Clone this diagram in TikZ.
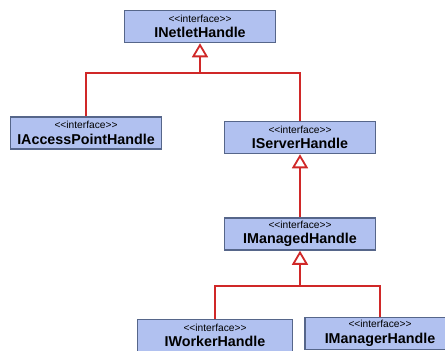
\documentclass[tikz,border=0pt]{standalone}
\usepackage{fontspec}
\setmainfont{Liberation Sans}
\usetikzlibrary{arrows.meta}

\definecolor{boxfill}{HTML}{B1C1F0}
\definecolor{boxline}{HTML}{56668A}
\definecolor{linkred}{HTML}{D02828}

\tikzset{
  iface/.style={draw=boxline, line width=1.5pt, fill=boxfill, rectangle,
    inner sep=0pt, minimum height=32pt, align=center,
    font=\fontsize{10}{12}\selectfont},
  link/.style={draw=linkred, line width=1.8pt},
  gen/.style={link, -{Triangle[open, length=14pt, width=16pt, fill=white]}},
}
\newcommand{\ifacetext}[1]{%
  {\fontsize{10.2}{10}\selectfont <{}<interface>{}>}\\[3.5pt]%
  {\fontsize{14.3}{15}\selectfont\bfseries #1}}

\begin{document}
\begin{tikzpicture}[x=1pt, y=-1pt]
  \useasboundingbox (0,0) rectangle (445,351);
  \clip (0,0) rectangle (445,351);

  % interfaces
  \node[iface, minimum width=151pt] (net) at (200,26.5) {\ifacetext{INetletHandle}};
  \node[iface, minimum width=151pt] (acc) at (86,133) {\ifacetext{IAccessPointHandle}};
  \node[iface, minimum width=151pt] (srv) at (300,137.5) {\ifacetext{IServerHandle}};
  \node[iface, minimum width=151pt] (mgd) at (300,234) {\ifacetext{IManagedHandle}};
  \node[iface, minimum width=155pt] (wrk) at (215,335.5) {\ifacetext{IWorkerHandle}};
  \node[iface, minimum width=150pt] (mgr) at (380,333.5) {\ifacetext{IManagerHandle}};

  % junction points of the generalization trees
  \coordinate (j1) at (200,73);
  \coordinate (j3) at (300,286);

  % tree branches
  \draw[link] (acc.north) |- (j1);
  \draw[link] (srv.north) |- (j1);
  \draw[link] (wrk.north) |- (j3);
  \draw[link] (mgr.north) |- (j3);

  % generalization arrows
  \draw[gen] (j1) -- (net.south);
  \draw[gen] (mgd.north) -- (srv.south);
  \draw[gen] (j3) -- (mgd.south);
\end{tikzpicture}
\end{document}
